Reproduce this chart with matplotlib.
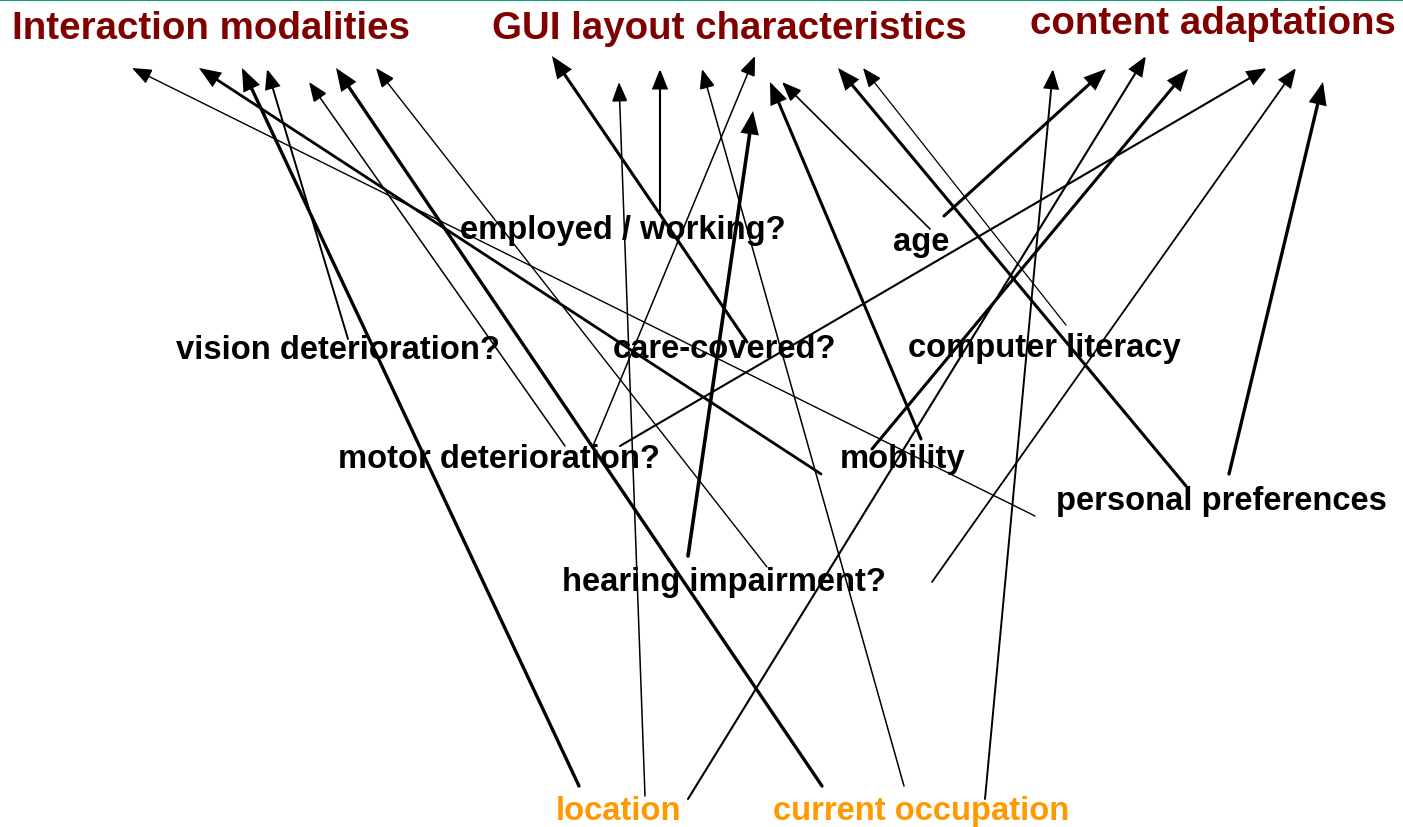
import matplotlib
matplotlib.use("Agg")
import matplotlib.pyplot as plt
from matplotlib.patches import FancyArrowPatch

# group headers (top) and source attributes (middle / bottom), pixel coords
titles = ["Interaction modalities", "GUI layout characteristics", "content adaptations"]
title_x = [12, 492, 1030]
title_y = [39, 39, 34]

labels = ["employed / working?", "age", "vision deterioration?", "care-covered?",
          "computer literacy", "motor deterioration?", "mobility",
          "personal preferences", "hearing impairment?"]
label_x = [460, 893, 176, 613, 908, 338, 840, 1056, 562]
label_y = [239, 251, 359, 358, 357, 468, 468, 510, 591]

bottom_labels = ["location", "current occupation"]
bottom_x = [556, 773]
bottom_y = [820, 820]

# arrows: start (near attribute label) -> end (under group header)
start_x = [1035, 821, 579, 348, 565, 822, 767,
           747, 645, 660, 904, 593, 688, 921, 930, 1186, 1066,
           985, 944, 688, 872, 620, 932, 1229]
start_y = [517, 475, 787, 340, 447, 787, 568,
           343, 797, 212, 787, 447, 557, 440, 230, 487, 326,
           800, 217, 800, 450, 447, 583, 475]
end_x = [132, 199, 242, 267, 309, 336, 376,
         552, 619, 660, 702, 755, 753, 770, 782, 838, 863,
         1053, 1106, 1146, 1188, 1267, 1296, 1323]
end_y = [69, 69, 69, 70, 83, 69, 69,
         57, 83, 70, 70, 57, 112, 83, 83, 69, 69,
         70, 70, 57, 70, 69, 69, 83]
weights = [1.0, 2.0, 2.4, 1.4, 1.1, 2.4, 1.0,
           2.2, 1.1, 1.5, 1.1, 1.1, 2.6, 2.2, 1.2, 2.2, 0.9,
           1.4, 2.2, 1.5, 2.2, 1.5, 1.3, 2.4]

fig = plt.figure(figsize=(14.03, 8.28), dpi=100)
ax = fig.add_axes([0, 0, 1, 1])
ax.set_xlim(0, 1403)
ax.set_ylim(828, 0)
ax.axis('off')

# thin teal rule along the top edge
ax.axhline(0.8, color='#17997d', lw=1.5)

for sx, sy, ex, ey, w in zip(start_x, start_y, end_x, end_y, weights):
    arr = FancyArrowPatch((sx, sy), (ex, ey), arrowstyle='-|>,head_length=0.6,head_width=0.24',
                          mutation_scale=20, lw=w, color='black',
                          shrinkA=0, shrinkB=0, joinstyle='miter')
    ax.add_patch(arr)

font = ['Liberation Sans', 'DejaVu Sans']
for t, x, y in zip(titles, title_x, title_y):
    ax.text(x, y, t, fontsize=27.7, fontweight='bold', color='#800000',
            family=font, ha='left', va='baseline')
for t, x, y in zip(labels, label_x, label_y):
    ax.text(x, y, t, fontsize=23.6, fontweight='bold', color='black',
            family=font, ha='left', va='baseline')
for t, x, y in zip(bottom_labels, bottom_x, bottom_y):
    ax.text(x, y, t, fontsize=23.6, fontweight='bold', color='#ff9900',
            family=font, ha='left', va='baseline')

fig.savefig('out.png', dpi=100)
